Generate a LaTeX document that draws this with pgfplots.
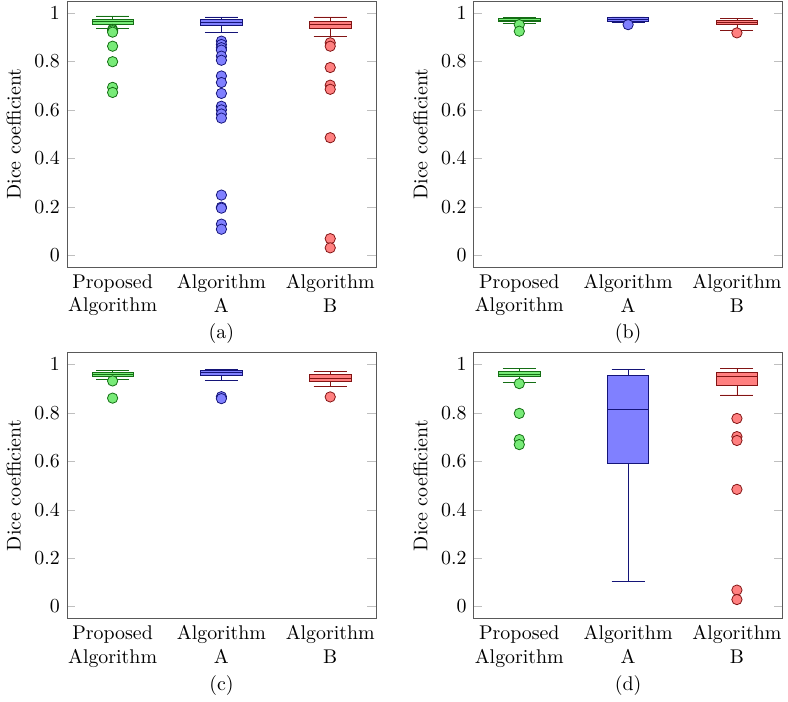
\documentclass[border=0pt]{standalone}
\usepackage{pgfplots}
\pgfplotsset{compat=1.18}
\usepgfplotslibrary{statistics}
\definecolor{gfill}{RGB}{120,235,120}
\definecolor{gdraw}{RGB}{20,110,20}
\definecolor{bfill}{RGB}{128,128,255}
\definecolor{bdraw}{RGB}{20,20,120}
\definecolor{rfill}{RGB}{255,128,128}
\definecolor{rdraw}{RGB}{130,20,20}
\pgfplotsset{
  myax/.style={
    scale only axis, width=155.5pt, height=134pt,
    anchor=north west,
    clip=false,
    xmin=0.58, xmax=3.42, ymin=-0.05, ymax=1.05,
    xtick={1,2,3},
    xticklabels={{Proposed\\Algorithm},{Algorithm\\A},{Algorithm\\B}},
    xticklabel style={align=center},
    major x tick style={draw=none},
    ytick={0,0.2,0.4,0.6,0.8,1},
    ylabel={Dice coefficient},
    axis line style={black!65},
    major y tick style={black!25},
    boxplot/draw direction=y,
    boxplot/box extend=0.38,
  },
  gbox/.style={draw=gdraw, fill=gfill, mark=*, mark size=2.6pt, mark options={draw=gdraw, fill=gfill}},
  bbox/.style={draw=bdraw, fill=bfill, mark=*, mark size=2.6pt, mark options={draw=bdraw, fill=bfill}},
  rbox/.style={draw=rdraw, fill=rfill, mark=*, mark size=2.6pt, mark options={draw=rdraw, fill=rfill}},
}
\begin{document}
\begin{tikzpicture}
% (a)
\begin{axis}[myax, at={(32.85pt,-1pt)}]
\addplot[gbox, boxplot prepared={draw position=1, lower whisker=0.938, lower quartile=0.955, median=0.964, upper quartile=0.9725, upper whisker=0.988}]
  table[row sep=\\, y index=0] {data\\ 0.932\\ 0.927\\ 0.921\\ 0.863\\ 0.799\\ 0.693\\ 0.672\\};
\addplot[bbox, boxplot prepared={draw position=2, lower whisker=0.919, lower quartile=0.947, median=0.963, upper quartile=0.975, upper whisker=0.984}]
  table[row sep=\\, y index=0] {data\\ 0.884\\ 0.870\\ 0.857\\ 0.847\\ 0.822\\ 0.805\\ 0.740\\ 0.713\\ 0.668\\ 0.615\\ 0.600\\ 0.583\\ 0.566\\ 0.248\\ 0.198\\ 0.194\\ 0.128\\ 0.107\\};
\addplot[rbox, boxplot prepared={draw position=3, lower whisker=0.904, lower quartile=0.936, median=0.952, upper quartile=0.966, upper whisker=0.984}]
  table[row sep=\\, y index=0] {data\\ 0.877\\ 0.863\\ 0.775\\ 0.702\\ 0.685\\ 0.485\\ 0.068\\ 0.030\\};
\node at (rel axis cs:0.5,0) [yshift=-33.5pt] {(a)};
\end{axis}
% (b)
\begin{axis}[myax, at={(237.5pt,-1pt)}]
\addplot[gbox, boxplot prepared={draw position=1, lower whisker=0.956, lower quartile=0.964, median=0.971, upper quartile=0.977, upper whisker=0.980}]
  table[row sep=\\, y index=0] {data\\ 0.952\\ 0.925\\};
\addplot[bbox, boxplot prepared={draw position=2, lower whisker=0.960, lower quartile=0.966, median=0.975, upper quartile=0.980, upper whisker=0.984}]
  table[row sep=\\, y index=0] {data\\ 0.952\\};
\addplot[rbox, boxplot prepared={draw position=3, lower whisker=0.928, lower quartile=0.952, median=0.962, upper quartile=0.970, upper whisker=0.977}]
  table[row sep=\\, y index=0] {data\\ 0.918\\};
\node at (rel axis cs:0.5,0) [yshift=-33.5pt] {(b)};
\end{axis}
% (c)
\begin{axis}[myax, at={(32.85pt,-177.85pt)}]
\addplot[gbox, boxplot prepared={draw position=1, lower whisker=0.940, lower quartile=0.952, median=0.960, upper quartile=0.967, upper whisker=0.974}]
  table[row sep=\\, y index=0] {data\\ 0.932\\ 0.861\\};
\addplot[bbox, boxplot prepared={draw position=2, lower whisker=0.934, lower quartile=0.956, median=0.966, upper quartile=0.974, upper whisker=0.978}]
  table[row sep=\\, y index=0] {data\\ 0.867\\ 0.859\\};
\addplot[rbox, boxplot prepared={draw position=3, lower whisker=0.910, lower quartile=0.930, median=0.944, upper quartile=0.957, upper whisker=0.970}]
  table[row sep=\\, y index=0] {data\\ 0.866\\};
\node at (rel axis cs:0.5,0) [yshift=-33.5pt] {(c)};
\end{axis}
% (d)
\begin{axis}[myax, at={(237.5pt,-177.85pt)}]
\addplot[gbox, boxplot prepared={draw position=1, lower whisker=0.926, lower quartile=0.949, median=0.959, upper quartile=0.970, upper whisker=0.985}]
  table[row sep=\\, y index=0] {data\\ 0.921\\ 0.798\\ 0.690\\ 0.669\\};
\addplot[bbox, boxplot prepared={draw position=2, lower whisker=0.105, lower quartile=0.590, median=0.815, upper quartile=0.956, upper whisker=0.980}]
  coordinates {};
\addplot[rbox, boxplot prepared={draw position=3, lower whisker=0.874, lower quartile=0.914, median=0.951, upper quartile=0.967, upper whisker=0.982}]
  table[row sep=\\, y index=0] {data\\ 0.777\\ 0.702\\ 0.686\\ 0.484\\ 0.068\\ 0.029\\};
\node at (rel axis cs:0.5,0) [yshift=-33.5pt] {(d)};
\end{axis}
\end{tikzpicture}
\end{document}
